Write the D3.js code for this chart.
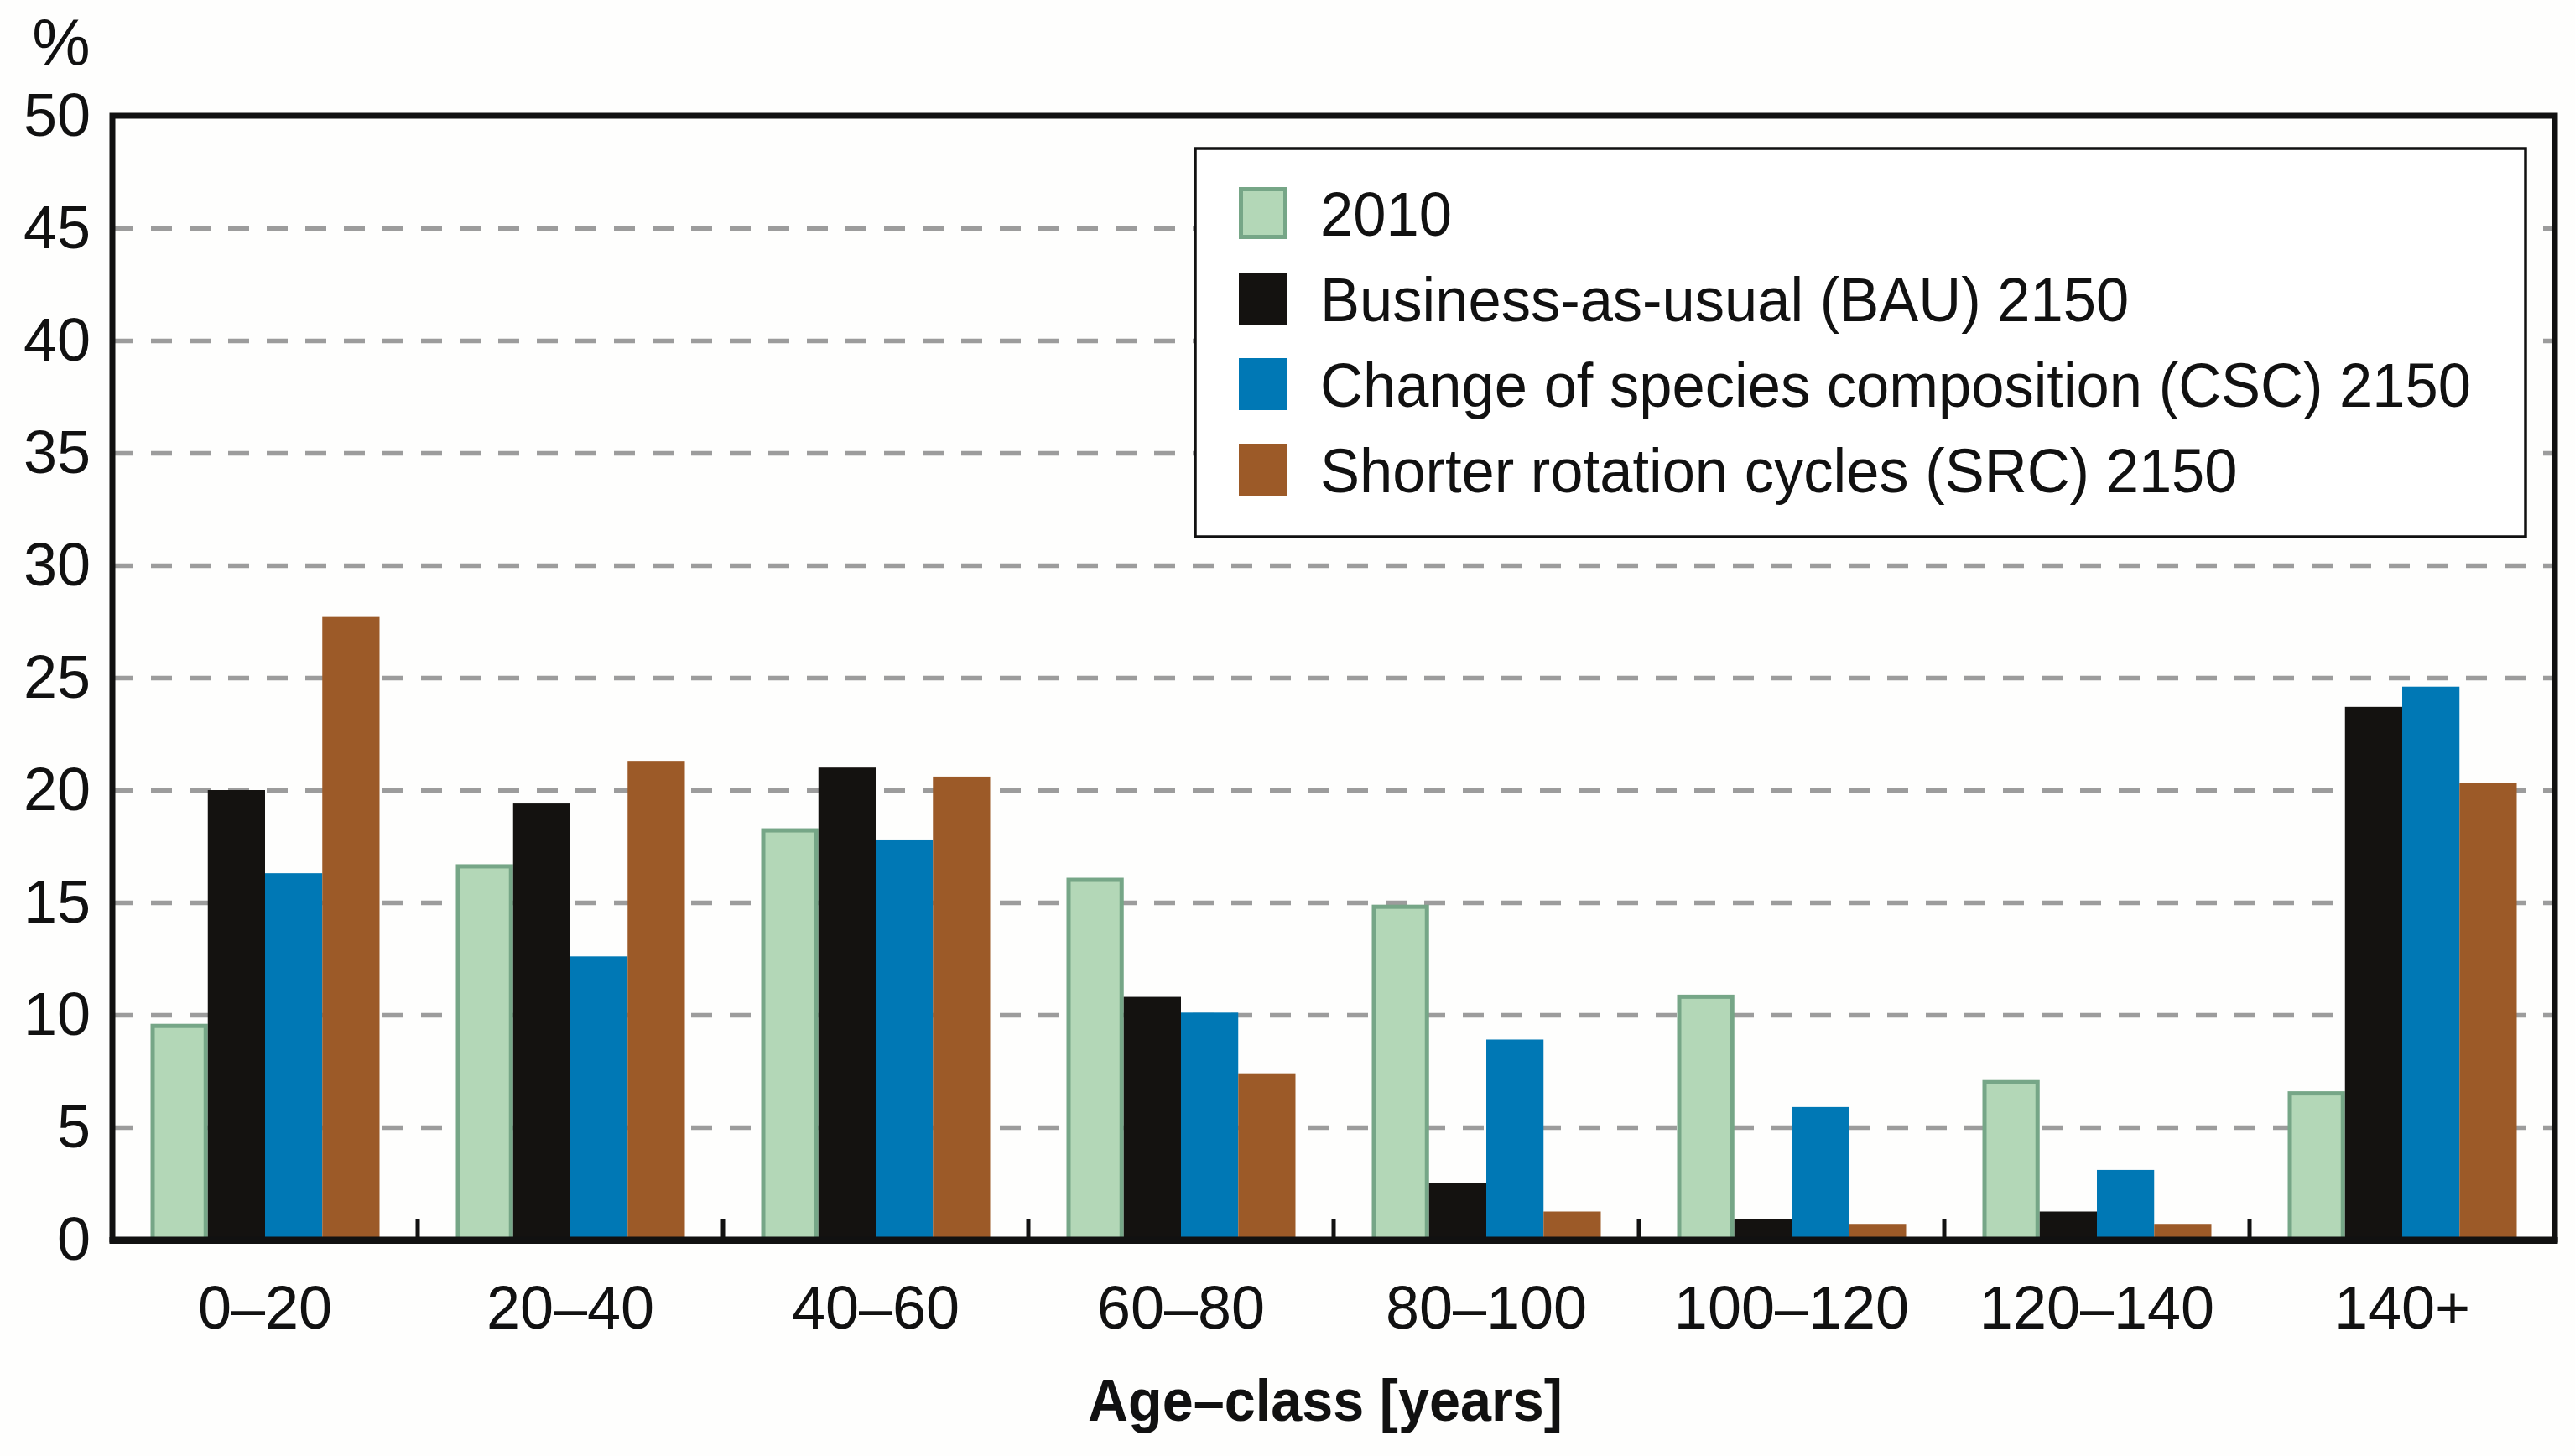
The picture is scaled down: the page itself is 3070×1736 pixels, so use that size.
<!DOCTYPE html>
<html>
<head>
<meta charset="utf-8">
<script src="https://cdn.jsdelivr.net/npm/d3@7"></script>
<style>
  body { margin: 0; background: #fefefd; }
  svg { display: block; }
  text { font-family: "Liberation Sans", Arial, sans-serif; fill: #111; }
</style>
</head>
<body>
<div id="chart"></div>
<script>
// data
var categories = ["0\u201320", "20\u201340", "40\u201360", "60\u201380", "80\u2013100", "100\u2013120", "120\u2013140", "140+"];
var seriesNames = ["2010", "Business-as-usual (BAU) 2150", "Change of species composition (CSC) 2150", "Shorter rotation cycles (SRC) 2150"];
var v2010 = [9.6, 16.7, 18.3, 16.1, 14.9, 10.9, 7.1, 6.6];
var vBAU  = [20.0, 19.4, 21.0, 10.8, 2.5, 0.9, 1.25, 23.7];
var vCSC  = [16.3, 12.6, 17.8, 10.1, 8.9, 5.9, 3.1, 24.6];
var vSRC  = [27.7, 21.3, 20.6, 7.4, 1.25, 0.7, 0.7, 20.3];
var yTicks = [0, 5, 10, 15, 20, 25, 30, 35, 40, 45, 50];

var seriesValues = [v2010, vBAU, vCSC, vSRC];
var fills   = ["#b3d7b7", "#141210", "#0078b5", "#9c5a28"];
var strokes = ["#76a687", "none", "none", "none"];

var width = 3070, height = 1736;
var margin = {top: 138, right: 24, bottom: 258, left: 134};
var plotW = width - margin.left - margin.right;
var plotH = height - margin.top - margin.bottom;

var svg = d3.select("#chart").append("svg")
  .attr("width", width)
  .attr("height", height);

svg.append("rect").attr("width", width).attr("height", height).attr("fill", "#fefefd");

var g = svg.append("g").attr("transform", "translate(" + margin.left + "," + margin.top + ")");

var x0 = d3.scaleBand().domain(categories).range([0, plotW]).paddingInner(0.25).paddingOuter(0.125);
var x1 = d3.scaleBand().domain(seriesNames).range([0, x0.bandwidth()]);
var y = d3.scaleLinear().domain([0, 50]).range([plotH, 0]);

// dashed grid
g.append("g")
  .attr("class", "grid")
  .call(d3.axisLeft(y).tickValues(yTicks.filter(d => d > 0 && d < 50)).tickSize(-plotW).tickFormat(""))
  .call(s => s.select(".domain").remove())
  .selectAll("line")
  .attr("stroke", "#9c9c9c")
  .attr("stroke-width", 5.5)
  .attr("stroke-dasharray", "25,21");

// bars
var rows = categories.map(function(c, i) {
  return {cat: c, vals: seriesNames.map(function(s, j) { return {name: s, idx: j, value: seriesValues[j][i]}; })};
});

var groups = g.selectAll(".group")
  .data(rows)
  .enter().append("g")
  .attr("class", "group")
  .attr("transform", d => "translate(" + x0(d.cat) + ",0)");

groups.selectAll("rect")
  .data(d => d.vals)
  .enter().append("rect")
  .attr("x", d => x1(d.name) + (d.idx == 0 ? 2.5 : 0))
  .attr("y", d => y(d.value) + (d.idx == 0 ? 2.5 : 0))
  .attr("width", d => x1.bandwidth() - (d.idx == 0 ? 5 : 0))
  .attr("height", d => Math.max(0, plotH - y(d.value) - (d.idx == 0 ? 2.5 : 0)))
  .attr("fill", d => fills[d.idx])
  .attr("stroke", d => strokes[d.idx])
  .attr("stroke-width", 5);

// frame
g.append("rect")
  .attr("width", plotW).attr("height", plotH)
  .attr("fill", "none")
  .attr("stroke", "#111")
  .attr("stroke-width", 7);
g.append("line")
  .attr("x1", -3.5).attr("x2", plotW + 3.5)
  .attr("y1", plotH + 1).attr("y2", plotH + 1)
  .attr("stroke", "#111").attr("stroke-width", 8);

// inner ticks at group boundaries
var gap = (x0.step() - x0.bandwidth()) / 2;
g.selectAll(".btick")
  .data(categories.slice(1))
  .enter().append("line")
  .attr("x1", d => x0(d) - gap).attr("x2", d => x0(d) - gap)
  .attr("y1", plotH).attr("y2", plotH - 24)
  .attr("stroke", "#111").attr("stroke-width", 5);

// y tick labels
var yAxis = g.append("g")
  .call(d3.axisLeft(y).tickValues(yTicks).tickSize(0).tickPadding(26))
  .call(s => s.select(".domain").remove());
yAxis.selectAll("text")
  .style("font-family", "'Liberation Sans', Arial, sans-serif")
  .style("font-size", "72px")
  .attr("fill", "#111");

// x tick labels
var xAxis = g.append("g")
  .attr("transform", "translate(0," + plotH + ")")
  .call(d3.axisBottom(x0).tickSize(0).tickPadding(0))
  .call(s => s.select(".domain").remove());
xAxis.selectAll("text")
  .style("font-family", "'Liberation Sans', Arial, sans-serif")
  .style("font-size", "72px")
  .attr("fill", "#111")
  .attr("dy", null)
  .attr("y", 106);

// axis titles
svg.append("text")
  .attr("x", 73).attr("y", 78)
  .attr("text-anchor", "middle")
  .style("font-size", "78px")
  .text("%");

var xt = svg.append("text")
  .attr("x", 1580).attr("y", 1694)
  .attr("text-anchor", "middle")
  .style("font-size", "70px")
  .style("font-weight", "bold")
  .text("Age\u2013class [years]");
xt.attr("textLength", 566).attr("lengthAdjust", "spacingAndGlyphs");

// legend
var legend = svg.append("g").attr("transform", "translate(1425,177)");
legend.append("rect")
  .attr("width", 1586).attr("height", 463)
  .attr("fill", "#fff")
  .attr("stroke", "#111")
  .attr("stroke-width", 3.5);

var item = legend.selectAll(".item")
  .data(seriesNames)
  .enter().append("g")
  .attr("class", "item")
  .attr("transform", (d, i) => "translate(0," + (77 + i * 102) + ")");

item.append("rect")
  .attr("x", d => 52 + (seriesNames.indexOf(d) == 0 ? 2.5 : 0))
  .attr("y", d => -31 + (seriesNames.indexOf(d) == 0 ? 2.5 : 0))
  .attr("width", d => 58 - (seriesNames.indexOf(d) == 0 ? 5 : 0))
  .attr("height", d => 62 - (seriesNames.indexOf(d) == 0 ? 5 : 0))
  .attr("fill", (d, i) => fills[i])
  .attr("stroke", (d, i) => strokes[i])
  .attr("stroke-width", 5);

var labels = item.append("text")
  .attr("x", 149)
  .attr("dy", "0.36em")
  .style("font-size", "75px")
  .text(d => d);

// squeeze legend text a little so the longest line spans like the reference
var longest = d3.max(labels.nodes(), n => n.getComputedTextLength());
var k = 1372 / longest;
labels.each(function() {
  var w = this.getComputedTextLength();
  d3.select(this).attr("textLength", w * k).attr("lengthAdjust", "spacingAndGlyphs");
});
</script>
</body>
</html>
